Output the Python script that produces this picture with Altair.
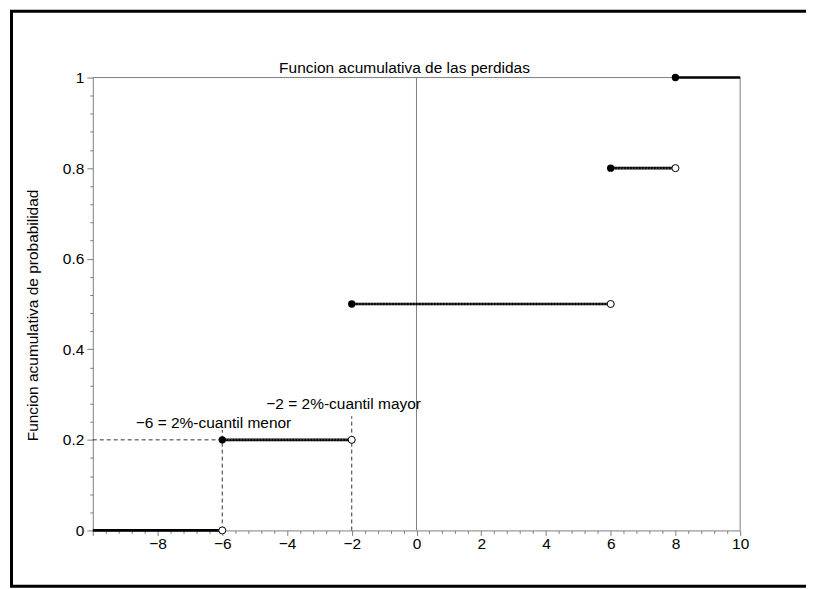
import altair as alt
import pandas as pd

# ---- data ----
seg_start = [-10, -6, -2, 6, 8]
seg_end = [-6, -2, 6, 8, 10]
seg_level = [0.0, 0.2, 0.5, 0.8, 1.0]
seg_dotted = [False, True, True, True, False]

closed_x = [-6, -2, 6, 8]
closed_y = [0.2, 0.5, 0.8, 1.0]
open_x = [-6, -2, 6, 8]
open_y = [0.0, 0.2, 0.5, 0.8]

guide_h_x = [-10]
guide_h_x2 = [-6]
guide_h_y = [0.2]
guide_v_x = [-6, -2]
guide_v_y2 = [0.222, 0.252]

box_v_x = [0, 10]
box_h_y = [1.0]

ann_text = ["\u22126 = 2%-cuantil menor", "\u22122 = 2%-cuantil mayor"]
ann_x = [-6.27, -2.25]
ann_y = [0.226, 0.268]

x_ticks = [round(-10 + 0.4 * i, 1) for i in range(51)]
y_ticks = [round(0.04 * i, 2) for i in range(26)]

title_text = "Funcion acumulativa de las perdidas"
y_title = "Funcion acumulativa de probabilidad"

FONT = "Liberation Sans"
GRAY = "#7d7d7d"
FS = 15.5

x_major = "abs(datum.value - 2*round(datum.value/2)) < 0.01"
y_major = "abs(datum.value*5 - round(datum.value*5)) < 0.01"

xscale = alt.Scale(domain=[-10, 10], nice=False, zero=False)
yscale = alt.Scale(domain=[0, 1], nice=False, zero=False)

x_axis = alt.Axis(
    values=x_ticks, title="", grid=False,
    domainColor=GRAY, domainWidth=1, tickColor=GRAY, tickWidth=1,
    tickSize={"condition": {"test": x_major, "value": 5}, "value": 3},
    labelExpr=x_major + " && datum.value > -9 ? format(datum.value, '~g') : ''",
    labelFont=FONT, labelFontSize=FS, labelColor="black", labelPadding=1,
    labelOverlap=False, labelFlush=False,
)
y_axis = alt.Axis(
    values=y_ticks, title=y_title, grid=False,
    domainColor=GRAY, domainWidth=1, tickColor=GRAY, tickWidth=1,
    tickSize={"condition": {"test": y_major, "value": 6}, "value": 3},
    labelExpr=y_major + " ? format(datum.value, '~g') : ''",
    labelFont=FONT, labelFontSize=FS, labelColor="black", labelPadding=3,
    labelOverlap=False, labelFlush=False,
    titleFont=FONT, titleFontSize=FS, titleFontWeight="normal", titleColor="black",
    titleX=-55, titleY=238, titleAngle=270, titleAlign="center", titleBaseline="alphabetic",
)


def X(f):
    return alt.X(f, type="quantitative", scale=xscale, axis=x_axis)


def Y(f):
    return alt.Y(f, type="quantitative", scale=yscale, axis=y_axis)


segs = pd.DataFrame({"xs": seg_start, "xe": seg_end, "y": seg_level, "dotted": seg_dotted})
closed = pd.DataFrame({"x": closed_x, "y": closed_y})
opened = pd.DataFrame({"x": open_x, "y": open_y})
gh = pd.DataFrame({"x": guide_h_x, "x2": guide_h_x2, "y": guide_h_y})
gv = pd.DataFrame({"x": guide_v_x, "y": [0.0] * len(guide_v_x), "y2": guide_v_y2})
bv = pd.DataFrame({"x": box_v_x, "y": [0.0] * len(box_v_x), "y2": [1.0] * len(box_v_x)})
bh = pd.DataFrame({"y": box_h_y, "x": [-10] * len(box_h_y), "x2": [10] * len(box_h_y)})
ann = pd.DataFrame({"t": ann_text, "x": ann_x, "y": ann_y})
one = pd.DataFrame({"k": [0]})

frame = alt.Chart(one).mark_rect(fillOpacity=0, stroke="black", strokeWidth=3).encode(
    x=alt.value(-81.5), x2=alt.value(725), y=alt.value(-66.5), y2=alt.value(510)
)

box_v = alt.Chart(bv).mark_rule(color=GRAY, strokeWidth=1).encode(x=X("x"), y=Y("y"), y2="y2")
box_h = alt.Chart(bh).mark_rule(color=GRAY, strokeWidth=1).encode(x=X("x"), x2="x2", y=Y("y"))

guide_h = alt.Chart(gh).mark_rule(color="#333333", strokeWidth=1, strokeDash=[4, 3]).encode(
    x=X("x"), x2="x2", y=Y("y"))
guide_v = alt.Chart(gv).mark_rule(color="#333333", strokeWidth=1, strokeDash=[4, 3]).encode(
    x=X("x"), y=Y("y"), y2="y2")

seg_lines = alt.Chart(segs).mark_rule(color="black", strokeWidth=2.6, strokeCap="butt").encode(
    x=X("xs"), x2="xe", y=Y("y"))
seg_dots = alt.Chart(segs).transform_filter("datum.dotted").mark_rule(
    color="#8a8a8a", strokeWidth=0.8, strokeDash=[1.5, 1.5]).encode(x=X("xs"), x2="xe", y=Y("y"))

closed_pts = alt.Chart(closed).mark_circle(size=55, color="black", opacity=1).encode(x=X("x"), y=Y("y"))
open_pts = alt.Chart(opened).mark_point(shape="circle", size=50, filled=True, fill="white",
                                         stroke="black", strokeWidth=1, opacity=1).encode(
    x=X("x"), y=Y("y"))

labels = alt.Chart(ann).mark_text(font=FONT, fontSize=FS, color="black", align="center",
                                   baseline="alphabetic").encode(x=X("x"), y=Y("y"), text="t:N")

chart = alt.layer(
    frame, box_v, box_h, guide_h, guide_v, seg_lines, seg_dots, open_pts, closed_pts, labels
).properties(
    width=649, height=454,
    title=alt.TitleParams(title_text, font=FONT, fontSize=FS, fontWeight="normal", color="black",
                          anchor="middle", frame="group", offset=1, dx=-12, dy=68),
    padding={"left": 85, "top": 69, "right": 66, "bottom": 58},
    autosize=alt.AutoSizeParams(type="none"),
).configure_view(strokeWidth=0)

chart.save("out.html", embed_options={"renderer": "svg", "actions": False})
